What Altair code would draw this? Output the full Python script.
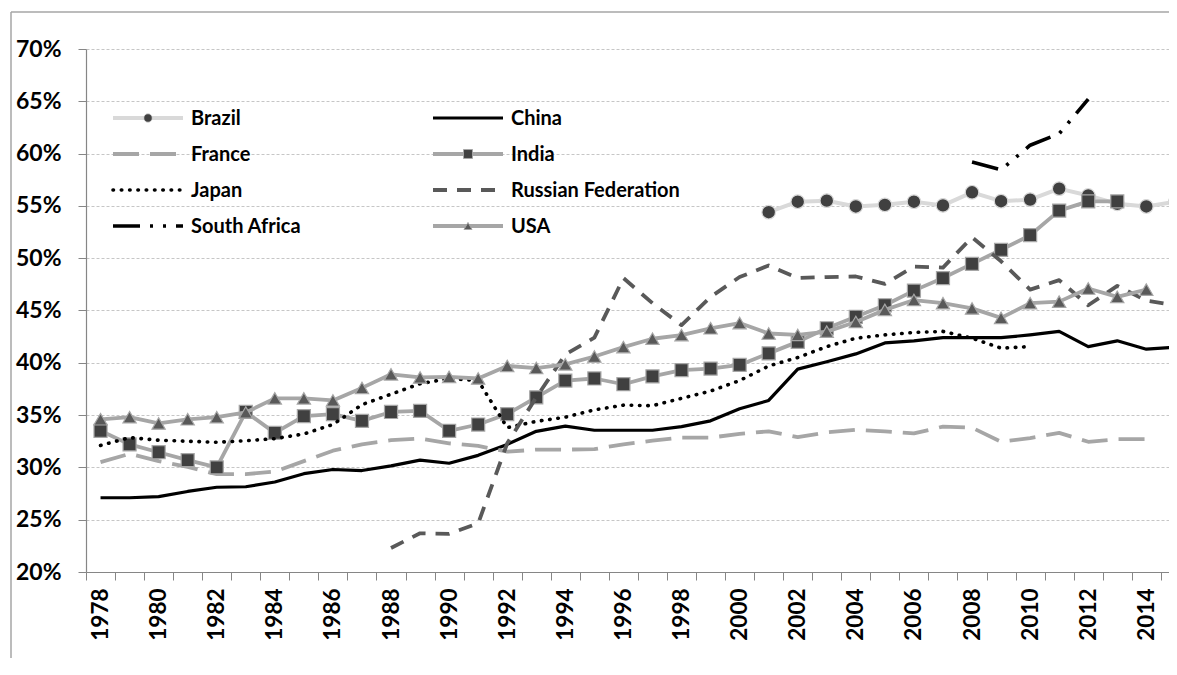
import altair as alt
import pandas as pd

# ---------------- data (percent of GDP) ----------------
brazil_start = 2001
brazil = [54.4, 55.4, 55.5, 54.95, 55.1, 55.4, 55.05, 56.3, 55.45, 55.6, 56.65, 56.0, 55.2, 54.95, 55.4]

china_start = 1978
china = [27.1, 27.1, 27.2, 27.7, 28.1, 28.15, 28.6, 29.4, 29.8, 29.7,
         30.15, 30.7, 30.4, 31.15, 32.2, 33.45, 33.95, 33.55, 33.55, 33.55,
         33.9, 34.45, 35.6, 36.4, 39.4, 40.1, 40.85, 41.9, 42.1, 42.4,
         42.4, 42.4, 42.67, 43.0, 41.55, 42.1, 41.3, 41.5]

france_start = 1978
france = [30.5, 31.3, 30.6, 30.05, 29.35, 29.35, 29.6, 30.6, 31.6, 32.2,
          32.6, 32.75, 32.3, 32.05, 31.5, 31.7, 31.7, 31.75, 32.2, 32.55,
          32.85, 32.85, 33.2, 33.45, 32.9, 33.35, 33.6, 33.45, 33.25, 33.9,
          33.8, 32.45, 32.8, 33.3, 32.45, 32.7, 32.7]

india_start = 1978
india = [33.5, 32.2, 31.45, 30.7, 30.0, 35.3, 33.3, 34.9, 35.1, 34.45,
         35.3, 35.4, 33.5, 34.1, 35.1, 36.7, 38.3, 38.5, 37.95, 38.7,
         39.3, 39.45, 39.8, 40.9, 42.0, 43.3, 44.4, 45.5, 46.9, 48.1,
         49.46, 50.8, 52.2, 54.55, 55.43, 55.43]

japan_start = 1978
japan = [32.1, 32.85, 32.6, 32.5, 32.4, 32.55, 32.75, 33.2, 34.1, 36.0,
         37.0, 38.0, 38.5, 38.3, 33.8, 34.4, 34.8, 35.5, 35.95, 35.9,
         36.6, 37.3, 38.3, 39.7, 40.5, 41.55, 42.35, 42.67, 42.9, 43.0,
         42.35, 41.4, 41.55]

russia_start = 1988
russia = [22.3, 23.7, 23.65, 24.65, 32.3, 36.7, 40.8, 42.4, 48.1, 45.7,
          43.6, 46.3, 48.2, 49.3, 48.1, 48.2, 48.25, 47.55, 49.2, 49.1,
          52.0, 49.7, 47.0, 47.9, 45.5, 47.35, 45.95, 45.5]

south_africa_start = 2008
south_africa = [59.2, 58.45, 60.8, 61.9, 65.2]

usa_start = 1978
usa = [34.6, 34.8, 34.2, 34.6, 34.8, 35.25, 36.6, 36.6, 36.4, 37.6,
       38.9, 38.6, 38.66, 38.5, 39.7, 39.5, 39.85, 40.6, 41.5, 42.3,
       42.65, 43.3, 43.8, 42.8, 42.66, 42.98, 43.9, 45.06, 46.0, 45.7,
       45.2, 44.3, 45.7, 45.85, 47.1, 46.3, 47.0]

country_names = ["Brazil", "China", "France", "India", "Japan",
                 "Russian Federation", "South Africa", "USA"]
series_data = [(brazil_start, brazil), (china_start, china), (france_start, france),
               (india_start, india), (japan_start, japan), (russia_start, russia),
               (south_africa_start, south_africa), (usa_start, usa)]

y_tick_values = [0.20, 0.25, 0.30, 0.35, 0.40, 0.45, 0.50, 0.55, 0.60, 0.65, 0.70]

rows = []
for name, (start, vals) in zip(country_names, series_data):
    for i, v in enumerate(vals):
        rows.append({"country": name, "year": start + i, "share": v / 100.0})
df = pd.DataFrame(rows)

# ---------------- styles ----------------
styles = {
    "Brazil": dict(stroke="#d9d9d9", width=4, dash=None, cap="butt",
                   marker="circle", mfill="#404040", mstroke="#d9d9d9", msize=185, lsize=75),
    "China": dict(stroke="#000000", width=3.2, dash=None, cap="butt"),
    "France": dict(stroke="#a6a6a6", width=3.8, dash=[26, 11], cap="butt"),
    "India": dict(stroke="#a6a6a6", width=3.8, dash=None, cap="butt",
                  marker="square", mfill="#404040", mstroke="#a6a6a6", msize=170, lsize=80),
    "Japan": dict(stroke="#000000", width=3.6, dash=[0.5, 7.8], cap="round"),
    "Russian Federation": dict(stroke="#595959", width=3.8, dash=[14, 10], cap="butt"),
    "South Africa": dict(stroke="#000000", width=3.6, dash=[27, 10, 3, 10, 3, 10], cap="butt"),
    "USA": dict(stroke="#a6a6a6", width=3.8, dash=None, cap="butt",
                marker="triangle-up", mfill="#595959", mstroke="#a6a6a6", msize=175, lsize=65),
}

# ---------------- geometry ----------------
W, H = 1083, 523
PAD_RIGHT = 0
PX_PER_YEAR = 29.05
x_scale = alt.Scale(domain=[1977.5, 1977.5 + W / PX_PER_YEAR], nice=False, zero=False)
y_scale = alt.Scale(domain=[0.2, 0.7], nice=False, zero=False)

FONT = "Lato"
AXIS_GRAY = "#868686"

x_axis = alt.Axis(
    values=[1977.5 + i for i in range(38)],
    labelExpr="(datum.value - 1977.5) % 2 == 0 ? toString(datum.value + 0.5) : ''",
    labelOffset=14.5, labelAngle=270, labelAlign="right", labelBaseline="middle",
    labelPadding=8, labelFont=FONT, labelFontSize=22.5, labelFontWeight="bold",
    labelColor="#000000", labelOverlap=False, labelFlush=False, labelBound=False,
    tickSize=8, tickColor=AXIS_GRAY, tickWidth=1, domainColor=AXIS_GRAY, domainWidth=1.2,
    grid=False, title=None,
)
y_axis = alt.Axis(
    values=y_tick_values, format=".0%", tickSize=8, tickColor=AXIS_GRAY, tickWidth=1,
    domainColor=AXIS_GRAY, domainWidth=1.2, labelPadding=17, labelFont=FONT,
    labelFontSize=23, labelFontWeight="bold", labelColor="#000000",
    grid=True, gridColor="#c6c6c6", gridDash=[3, 2], gridWidth=1, title=None,
)

X = alt.X("year:Q", scale=x_scale, axis=x_axis)
Y = alt.Y("share:Q", scale=y_scale, axis=y_axis)

base = alt.Chart(df)
one = pd.DataFrame({"k": [0]})

PAD_BOTTOM = 86

layers = []
# chart-area border (left and top edges; right/bottom are cropped in the reference)
layers.append(alt.Chart(one).mark_rule(color="#a6a6a6", strokeWidth=1.5).encode(
    x=alt.value(-75), y=alt.value(-37), y2=alt.value(H + PAD_BOTTOM)))
layers.append(alt.Chart(one).mark_rule(color="#a6a6a6", strokeWidth=1.5).encode(
    x=alt.value(-75), x2=alt.value(W + PAD_RIGHT), y=alt.value(-37)))

for name in country_names:
    st = styles[name]
    mk = dict(stroke=st["stroke"], strokeWidth=st["width"], strokeCap=st["cap"],
              strokeJoin="round", clip=False)
    if st["dash"]:
        mk["strokeDash"] = st["dash"]
    sub = base.transform_filter(alt.datum.country == name)
    layers.append(sub.mark_line(**mk).encode(x=X, y=Y))
    if "marker" in st:
        layers.append(sub.mark_point(shape=st["marker"], filled=True, fill=st["mfill"],
                                     stroke=st["mstroke"], strokeWidth=1.2, size=st["msize"],
                                     opacity=1, clip=False).encode(x=X, y=Y))

# ---------------- legend (two columns, four rows) ----------------
LEG_X0, LEG_COL_W, LEG_Y0, LEG_ROW_H = 27, 320, 69, 36
SYM_LEN, TXT_GAP = 70, 8
for idx, name in enumerate(country_names):
    st = styles[name]
    col, row = idx % 2, idx // 2
    sx = LEG_X0 + col * LEG_COL_W
    sy = LEG_Y0 + row * LEG_ROW_H
    mk = dict(stroke=st["stroke"], strokeWidth=st["width"], strokeCap=st["cap"])
    if st["dash"]:
        mk["strokeDash"] = st["dash"]
    layers.append(alt.Chart(one).mark_rule(**mk).encode(
        x=alt.value(sx), x2=alt.value(sx + SYM_LEN), y=alt.value(sy)))
    if "marker" in st:
        layers.append(alt.Chart(one).mark_point(shape=st["marker"], filled=True, fill=st["mfill"],
                                                stroke=st["mstroke"], strokeWidth=1, size=st["lsize"],
                                                opacity=1).encode(
            x=alt.value(sx + SYM_LEN / 2), y=alt.value(sy)))
    layers.append(alt.Chart(one).mark_text(text=name, align="left", baseline="middle",
                                           font=FONT, fontSize=20, fontWeight="bold",
                                           color="#000000").encode(
        x=alt.value(sx + SYM_LEN + TXT_GAP), y=alt.value(sy + 1)))

chart = alt.layer(*layers).properties(
    width=W, height=H,
    autosize=alt.AutoSizeParams(type="none"),
    padding={"left": 78, "top": 41, "right": PAD_RIGHT, "bottom": PAD_BOTTOM},
    background="white",
).configure_view(stroke="transparent", strokeWidth=0, fill="white")

chart.save("out.html", embed_options={"renderer": "svg", "actions": False})
